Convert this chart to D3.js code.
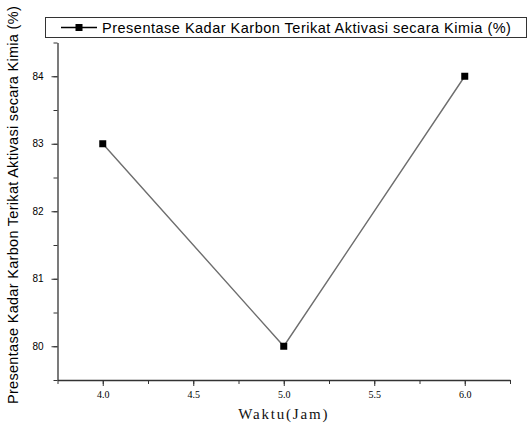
<!DOCTYPE html>
<html>
<head>
<meta charset="utf-8">
<script src="https://cdn.jsdelivr.net/npm/d3@7"></script>
<style>
  body { margin: 0; background: #fff; }
  svg { display: block; }
</style>
</head>
<body>
<div id="chart"></div>
<script>
// data
const waktu = [4.0, 5.0, 6.0];
const kadar = [83, 80, 84];
const xTicks = [4.0, 4.5, 5.0, 5.5, 6.0];
const yTicks = [80, 81, 82, 83, 84];
const seriesName = 'Presentase Kadar Karbon Terikat Aktivasi secara Kimia (%)';
const xTitle = 'Waktu(Jam)';

const W = 529, H = 430;
const margin = { top: 42.5, right: 19, bottom: 50, left: 57.5 };
const width = W - margin.left - margin.right;
const height = H - margin.top - margin.bottom;

const svg = d3.select('#chart').append('svg')
    .attr('width', W)
    .attr('height', H);

const g = svg.append('g')
    .attr('transform', `translate(${margin.left},${margin.top})`);

const x = d3.scaleLinear().domain([3.75, 6.25]).range([0, width]);
const y = d3.scaleLinear().domain([79.5, 84.5]).range([height, 0]);

// minor ticks
g.append('g')
    .attr('transform', `translate(0,${height})`)
    .call(d3.axisBottom(x).tickValues(d3.range(3.75, 6.26, 0.25)).tickSize(4).tickFormat(''))
    .call(a => a.select('.domain').remove())
    .selectAll('line').attr('stroke', '#333');
g.append('g')
    .call(d3.axisLeft(y).tickValues(d3.range(79.5, 84.51, 0.5)).tickSize(4).tickFormat(''))
    .call(a => a.select('.domain').remove())
    .selectAll('line').attr('stroke', '#333');

// major axes
const xAxis = g.append('g')
    .attr('transform', `translate(0,${height})`)
    .call(d3.axisBottom(x).tickValues(xTicks).tickSize(6).tickPadding(5).tickFormat(d3.format('.1f')).tickSizeOuter(0));
xAxis.select('.domain').attr('stroke', '#333').attr('stroke-width', 1.3);
xAxis.selectAll('line').attr('stroke', '#333');
xAxis.selectAll('text').attr('font-family', 'Liberation Serif, serif').attr('font-size', 10).attr('fill', '#000');

const yAxis = g.append('g')
    .call(d3.axisLeft(y).tickValues(yTicks).tickSize(6).tickPadding(8).tickFormat(d3.format('d')).tickSizeOuter(0));
yAxis.select('.domain').attr('stroke', '#333').attr('stroke-width', 1.3);
yAxis.selectAll('line').attr('stroke', '#333');
yAxis.selectAll('text').attr('font-family', 'Liberation Sans Narrow, Liberation Sans, sans-serif').attr('font-size', 10).attr('fill', '#000');

// line
const pts = waktu.map((d, i) => ({ x: d, y: kadar[i] }));
g.append('path')
    .datum(pts)
    .attr('fill', 'none')
    .attr('stroke', '#6e6e6e')
    .attr('stroke-width', 1.4)
    .attr('d', d3.line().x(d => x(d.x)).y(d => y(d.y)));

g.selectAll('.pt')
    .data(pts)
    .enter()
    .append('rect')
    .attr('class', 'pt')
    .attr('x', d => x(d.x) - 3.5)
    .attr('y', d => y(d.y) - 3.5)
    .attr('width', 7)
    .attr('height', 7)
    .attr('fill', '#000');

// titles
svg.append('text')
    .attr('x', margin.left + x(5.0))
    .attr('y', 419)
    .attr('text-anchor', 'middle')
    .attr('font-family', 'Liberation Serif, serif')
    .attr('font-size', 15)
    .attr('letter-spacing', 1.8)
    .attr('fill', '#111')
    .text(xTitle);

svg.append('text')
    .attr('transform', `translate(18,${205}) rotate(-90)`)
    .attr('text-anchor', 'middle')
    .attr('font-family', 'Liberation Sans, Arial, sans-serif')
    .attr('font-size', 14.5)
    .attr('letter-spacing', 0.3)
    .text(seriesName);

// legend
const leg = svg.append('g');
leg.append('rect')
    .attr('x', 45.5).attr('y', 17.5)
    .attr('width', 481).attr('height', 20)
    .attr('fill', '#fff').attr('stroke', '#333');
leg.append('line')
    .attr('x1', 61).attr('x2', 97).attr('y1', 27.5).attr('y2', 27.5)
    .attr('stroke', '#000').attr('stroke-width', 1.3);
leg.append('rect')
    .attr('x', 75.5).attr('y', 24).attr('width', 7).attr('height', 7).attr('fill', '#000');
leg.append('text')
    .attr('x', 102).attr('y', 32.5)
    .attr('font-family', 'Liberation Sans, Arial, sans-serif')
    .attr('font-size', 14.5)
    .attr('letter-spacing', 0.5)
    .text(seriesName);
</script>
</body>
</html>
